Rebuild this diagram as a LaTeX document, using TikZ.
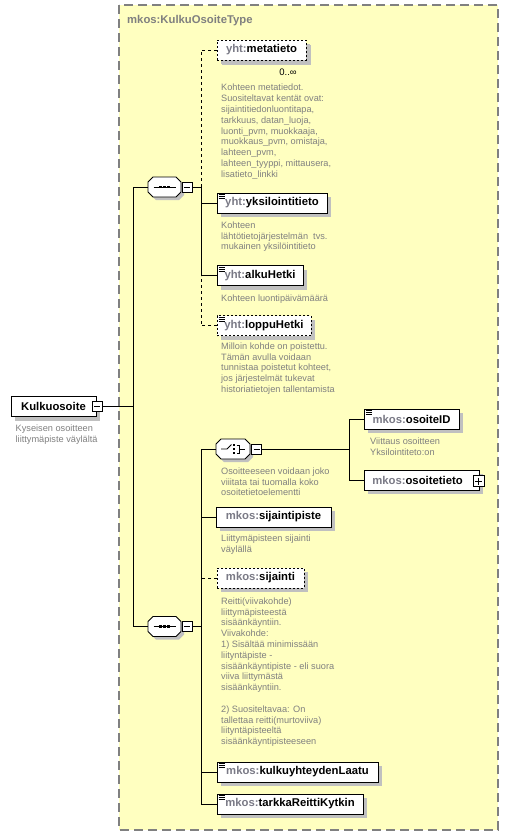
\documentclass[tikz,border=0pt]{standalone}
\usepackage{fontspec}
\setmainfont{Liberation Sans}
\usetikzlibrary{calc,shadows}
\definecolor{typefill}{RGB}{255,255,192}
\definecolor{typeborder}{RGB}{128,128,128}
\definecolor{desc}{RGB}{128,128,128}
\definecolor{pre}{RGB}{122,122,134}
\definecolor{shadowc}{RGB}{192,192,192}
\tikzset{
  elem/.style={draw=black, line width=0.8pt, fill=white, minimum height=20, inner sep=0, outer sep=0,
    anchor=west, font=\fontsize{11.3}{13}\selectfont\bfseries,
    drop shadow={shadow xshift=4pt, shadow yshift=-4pt, fill=shadowc, opacity=1}},
  optelem/.style={elem, dash pattern=on 2pt off 2pt},
  descr/.style={anchor=north west, inner sep=0, align=left, text=desc, font=\fontsize{9.2}{10.8}\selectfont,
    execute at begin node=\strut},
  conn/.style={line width=0.9pt},
  optconn/.style={conn, dash pattern=on 3pt off 3pt},
  expander/.style={draw, fill=white, line width=0.7pt, minimum size=10, inner sep=0, outer sep=0},
  comp/.style={minimum width=33, minimum height=20, inner sep=0, outer sep=0},
}
\newcommand\pre[1]{\textcolor{pre}{#1}}
\newcommand\xminus[1]{\draw[line width=0.7pt] ($(#1.west)+(2,0)$) -- ($(#1.east)+(-2,0)$);}
\newcommand\xplus[1]{\xminus{#1}\draw[line width=0.7pt] ($(#1.north)+(0,2)$) -- ($(#1.south)+(0,-2)$);}
\newcommand\elicon[1]{\foreach \d in {1.5,3.5,5.5}{\draw[line width=0.6pt] ($(#1.north west)+(1.5,\d)$) -- ++(6,0);}}
\newcommand\octagon[1]{%
  \fill[shadowc] ($(#1.north west)+(3,8)$) -- ($(#1.north west)+(8,3)$) -- ($(#1.north east)+(-2,3)$) -- ($(#1.north east)+(3,8)$) -- ($(#1.south east)+(3,-2)$) -- ($(#1.south east)+(-2,3)$) -- ($(#1.south west)+(8,3)$) -- ($(#1.south west)+(3,-2)$) -- cycle;
  \draw[line width=0.8pt, fill=white] ($(#1.north west)+(0,5)$) -- ($(#1.north west)+(5,0)$) -- ($(#1.north east)+(-5,0)$) -- ($(#1.north east)+(0,5)$) -- ($(#1.south east)+(0,-5)$) -- ($(#1.south east)+(-5,0)$) -- ($(#1.south west)+(5,0)$) -- ($(#1.south west)+(0,-5)$) -- cycle;}
\newcommand\seqsym[1]{%
  \draw[line width=0.8pt] ($(#1)+(-11,0)$) -- ($(#1)+(11,0)$);
  \foreach \dx in {-4,0,4}{\fill ($(#1)+(\dx-1.4,-1.4)$) rectangle ++(2.8,2.8);}}
\newcommand\choicesym[1]{%
  \draw[line width=0.8pt] ($(#1)+(-12,0)$) -- ($(#1)+(-6,0)$) -- ($(#1)+(-1.5,-4.5)$);
  \foreach \dy in {-4,0,4}{\fill ($(#1)+(-0.3,\dy-1.2)$) rectangle ++(2.4,2.4);}
  \draw[line width=0.8pt] ($(#1)+(3.5,-4)$) -- ($(#1)+(6,-4)$) -- ($(#1)+(6,4)$) -- ($(#1)+(3.5,4)$);
  \draw[line width=0.8pt] ($(#1)+(6,0)$) -- ($(#1)+(12,0)$);}
\begin{document}
\begin{tikzpicture}[x=1pt,y=-1pt]
\useasboundingbox (0,0) rectangle (508,836);
\fill[white] (0,0) rectangle (508,836);
% type box
\draw[typeborder, fill=typefill, line width=1.2pt, dash pattern=on 9pt off 5pt] (119,5) rectangle (498,830);
\node[anchor=base west, inner sep=0, text=typeborder, font=\fontsize{11.3}{13}\selectfont\bfseries] (title) at (127,23) {mkos:KulkuOsoiteType};

% root element
\node[elem, minimum width=85] (root) at (11,406.5) {Kulkuosoite};
\node[expander] (km) at (97,406.5) {};
\xminus{km}
\node[descr] (rootd) at (15.5,424.5) {Kyseisen osoitteen\\liittymäpiste väylältä};

% sequence 1
\node[comp] (s1) at (164.5,187) {};
\octagon{s1}
\seqsym{s1}
\node[expander] (s1m) at (187,187) {};
\xminus{s1m}

% sequence 2
\node[comp] (s2) at (164.5,626.5) {};
\octagon{s2}
\seqsym{s2}
\node[expander] (s2m) at (187,626.5) {};
\xminus{s2m}

% choice
\node[comp, minimum width=34] (ch) at (233,449) {};
\octagon{ch}
\choicesym{ch}
\node[expander] (chm) at (256.5,449) {};
\xminus{chm}
\node[descr] (chd) at (221,467.5) {Osoitteeseen voidaan joko\\viiitata tai tuomalla koko\\osoitetietoelementti};

% elements of sequence 1
\node[optelem, minimum width=89, drop shadow={shadow xshift=5pt, shadow yshift=-5pt, fill=shadowc, opacity=1}] (meta) at (217,50) {\pre{yht:}metatieto};
\node[inner sep=0, font=\fontsize{9.5}{11}\selectfont] (occ) at (288,72) {0..∞};
\node[descr] (metad) at (221,84) {Kohteen metatiedot.\\Suositeltavat kentät ovat:\\sijaintitiedonluontitapa,\\tarkkuus, datan\_luoja,\\luonti\_pvm, muokkaaja,\\muokkaus\_pvm, omistaja,\\lahteen\_pvm,\\lahteen\_tyyppi, mittausera,\\lisatieto\_linkki};

\node[elem, minimum width=110] (yks) at (217,203) {\pre{yht:}yksilointitieto};
\elicon{yks}
\node[descr] (yksd) at (221,221.5) {Kohteen\\lähtötietojärjestelmän\ \ tvs.\\mukainen yksilöintitieto};

\node[elem, minimum width=86] (alku) at (217,275.5) {\pre{yht:}alkuHetki};
\elicon{alku}
\node[descr] (alkud) at (221,293.5) {Kohteen luontipäivämäärä};

\node[optelem, minimum width=94] (loppu) at (217,325.5) {\pre{yht:}loppuHetki};
\elicon{loppu}
\node[descr] (loppud) at (221,342.5) {Milloin kohde on poistettu.\\Tämän avulla voidaan\\tunnistaa poistetut kohteet,\\jos järjestelmät tukevat\\historiatietojen tallentamista};

% elements of choice
\node[elem, minimum width=95] (oid) at (364,419) {\pre{mkos:}osoiteID};
\elicon{oid}
\node[descr] (oidd) at (370,437.5) {Viittaus osoitteen\\Yksilointiteto:on};

\node[elem, minimum width=115] (ost) at (364,480) {\pre{mkos:}osoitetieto\hspace*{8pt}};
\node[expander, minimum size=11] (ostp) at (478.5,481) {};
\xplus{ostp}

% elements of sequence 2
\node[elem, minimum width=115] (sp) at (216,517) {\pre{mkos:}sijaintipiste};
\node[descr] (spd) at (221,534.5) {Liittymäpisteen sijainti\\väylällä};

\node[optelem, minimum width=87] (sij) at (217,578) {\pre{mkos:}sijainti};
\node[descr] (sijd) at (221,597.5) {Reitti(viivakohde)\\liittymäpisteestä\\sisäänkäyntiin.\\Viivakohde:\\1) Sisältää minimissään\\liityntäpiste -\\sisäänkäyntipiste - eli suora\\viiva liittymästä\\sisäänkäyntiin.\\[10.8pt]2) Suositeltavaa: On\\tallettaa reitti(murtoviiva)\\liityntäpisteeltä\\sisäänkäyntipisteeseen};

\node[elem, minimum width=161] (kul) at (217,772) {\pre{mkos:}kulkuyhteydenLaatu};
\elicon{kul}
\node[elem, minimum width=146] (tark) at (217,804) {\pre{mkos:}tarkkaReittiKytkin};
\elicon{tark}

% connectors
\coordinate (b0) at (133,406.5);
\coordinate (b1) at (201,187);
\coordinate (b2) at (201,626.5);
\coordinate (b3) at (349,449);
\draw[conn] (km.east) -- (b0);
\draw[conn] (s1.west) -| (b0);
\draw[conn] (s2.west) -| (b0);

\draw[conn] (s1m.east) -- (b1);
\draw[optconn] (meta.west) -| (b1);
\draw[conn] (yks.west) -| (b1);
\draw[conn] (alku.west) -| (b1);
\draw[optconn] (loppu.west) -| (alku.west -| b1);

\draw[conn] (s2m.east) -- (b2);
\draw[optconn] (sij.west) -| (b2);
\draw[conn] (ch.west) -| (b2);
\draw[conn] (sp.west) -| (b2);
\draw[conn] (kul.west) -| (b2);
\draw[conn] (tark.west) -| (b2);

\draw[conn] (chm.east) -- (b3);
\draw[conn] (oid.west) -| (b3);
\draw[conn] (ost.west) -| (b3);
\end{tikzpicture}
\end{document}
